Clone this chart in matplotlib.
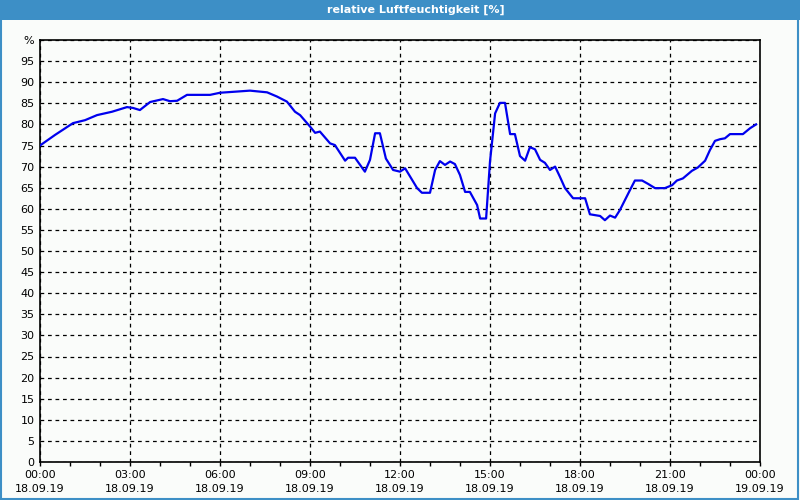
#!/usr/bin/env python3
import matplotlib
matplotlib.use('Agg')
import matplotlib.pyplot as plt
from matplotlib.patches import Rectangle

# humidity readings, hours after 18.09.19 00:00
hours = [0, 0.5, 1.1, 1.5, 1.9, 2.4, 2.9, 3.1, 3.33, 3.67, 4.1, 4.33, 4.57, 4.9,
         5.67, 6.0, 7.0, 7.57, 7.9, 8.23, 8.5, 8.67, 9.0, 9.17, 9.33, 9.67, 9.83,
         10.17, 10.27, 10.5, 10.83, 11.0, 11.17, 11.33, 11.53, 11.77, 12.0, 12.17,
         12.57, 12.73, 13.0, 13.17, 13.33, 13.5, 13.67, 13.83, 14.0, 14.17, 14.33,
         14.57, 14.67, 14.87, 15.0, 15.17, 15.33, 15.5, 15.67, 15.83, 16.0, 16.17,
         16.33, 16.5, 16.67, 16.83, 17.0, 17.17, 17.33, 17.5, 17.77, 18.17, 18.33,
         18.67, 18.83, 19.0, 19.17, 19.33, 19.67, 19.83, 20.07, 20.27, 20.5, 20.83,
         21.07, 21.23, 21.43, 21.73, 21.93, 22.17, 22.33, 22.5, 22.67, 22.83, 23.0,
         23.43, 23.67, 23.87]
humidity = [75, 77.5, 80.3, 81, 82.2, 83, 84.1, 83.9, 83.4, 85.3, 86, 85.5, 85.6, 87,
            87, 87.5, 88, 87.6, 86.6, 85.4, 83, 82.2, 79.5, 78, 78.3, 75.5, 75.1,
            71.4, 72.1, 72.1, 68.8, 71.6, 77.9, 77.9, 71.9, 69.2, 68.8, 69.6,
            64.9, 63.8, 63.8, 69.2, 71.3, 70.4, 71.2, 70.6, 68, 64, 64,
            60.9, 57.7, 57.7, 71.2, 82.6, 85.1, 85.1, 77.7, 77.7, 72.5, 71.4,
            74.6, 74.1, 71.6, 70.9, 69.2, 70, 67.6, 64.9, 62.5, 62.5, 58.7,
            58.3, 57.3, 58.4, 57.9, 59.7, 64.5, 66.7, 66.7, 65.9, 64.9, 64.9,
            65.6, 66.7, 67.2, 69, 69.8, 71.4, 73.9, 76.1, 76.5, 76.7, 77.7,
            77.7, 79.1, 80]

tick_hours = [0, 3, 6, 9, 12, 15, 18, 21, 24]
tick_labels = ['00:00\n18.09.19', '03:00\n18.09.19', '06:00\n18.09.19',
               '09:00\n18.09.19', '12:00\n18.09.19', '15:00\n18.09.19',
               '18:00\n18.09.19', '21:00\n18.09.19', '00:00\n19.09.19']
y_ticks = list(range(0, 101, 5))
y_labels = [str(v) for v in y_ticks[:-1]] + ['%']

title = 'relative Luftfeuchtigkeit [%]'
bar_color = '#3d8fc6'
bg = '#fafcfa'

plt.rcParams['font.family'] = ['DejaVu Sans']

fig = plt.figure(figsize=(8, 5), dpi=100, facecolor=bg)

# title bar and outer frame
fig.patches.append(Rectangle((0, 0.96), 1, 0.04, transform=fig.transFigure,
                             facecolor=bar_color, edgecolor='none', zorder=0))
fig.patches.append(Rectangle((0.001, 0.002), 0.997, 0.996, transform=fig.transFigure,
                             facecolor='none', edgecolor=bar_color, linewidth=1.5))
fig.text(0.52, 0.98, title, color='white', fontsize=8, fontweight='bold',
         ha='center', va='center')

ax = fig.add_axes([0.05, 0.076, 0.90, 0.844])
ax.set_facecolor(bg)
ax.plot(hours, humidity, color='#0000ee', linewidth=1.6, zorder=3)

ax.set_xlim(0, 24)
ax.set_ylim(0, 100)
ax.set_xticks(tick_hours)
ax.set_xticklabels(tick_labels, fontsize=8, linespacing=1.5)
ax.set_xticks(range(25), minor=True)
ax.set_yticks(y_ticks)
ax.set_yticklabels(y_labels, fontsize=8)

ax.tick_params(axis='x', which='both', direction='out', length=3, width=1, pad=3)
ax.tick_params(axis='y', length=0, pad=4)

ax.grid(True, which='major', color='black', linestyle=(0, (3, 3)), linewidth=0.9)
for s in ax.spines.values():
    s.set_color('black')
    s.set_linewidth(1.2)

fig.savefig('out.png', dpi=100, facecolor=bg)
